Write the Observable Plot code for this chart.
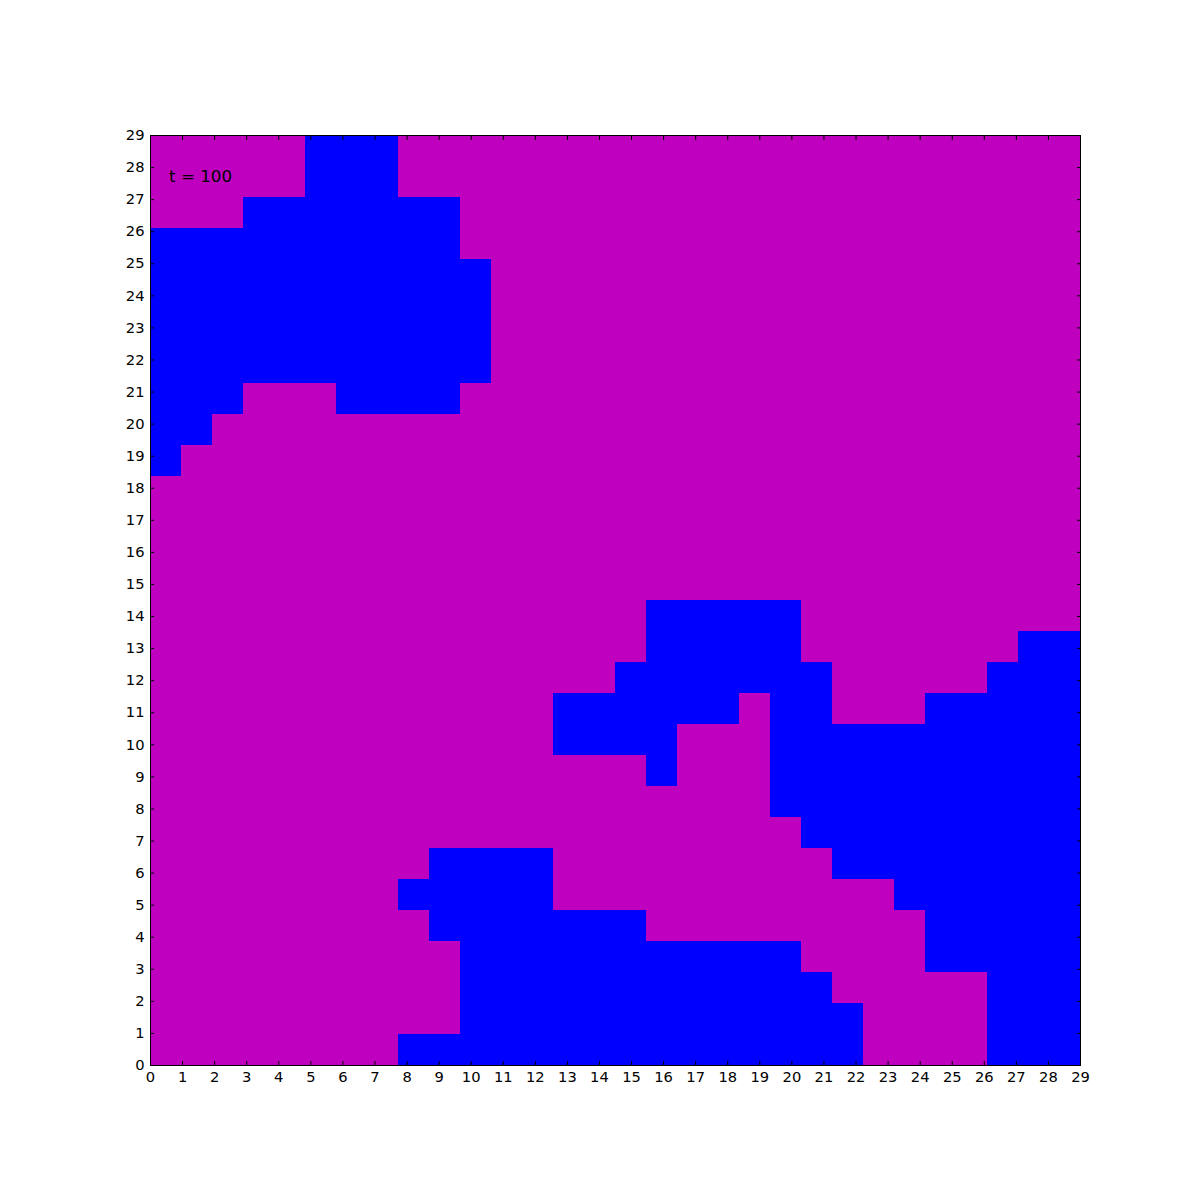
<!DOCTYPE html>
<html>
<head>
<meta charset="utf-8">
<script src="https://cdn.jsdelivr.net/npm/d3@7"></script>
<script src="https://cdn.jsdelivr.net/npm/@observablehq/plot@0.6"></script>
<style>
  body { margin: 0; background: #ffffff; }
  #chart svg { display: block; }
</style>
</head>
<body>
<div id="chart"></div>
<script>
// Grid state, one string per row, listed from the top row (29) down to row 0.
// "1" = blue state, "0" = magenta state; 30 cells per row.
const gridRows = [
  "000001110000000000000000000000",
  "000001110000000000000000000000",
  "000111111100000000000000000000",
  "111111111100000000000000000000",
  "111111111110000000000000000000",
  "111111111110000000000000000000",
  "111111111110000000000000000000",
  "111111111110000000000000000000",
  "111000111100000000000000000000",
  "110000000000000000000000000000",
  "100000000000000000000000000000",
  "000000000000000000000000000000",
  "000000000000000000000000000000",
  "000000000000000000000000000000",
  "000000000000000000000000000000",
  "000000000000000011111000000000",
  "000000000000000011111000000011",
  "000000000000000111111100000111",
  "000000000000011111101100011111",
  "000000000000011110001111111111",
  "000000000000000010001111111111",
  "000000000000000000001111111111",
  "000000000000000000000111111111",
  "000000000111100000000011111111",
  "000000001111100000000000111111",
  "000000000111111100000000011111",
  "000000000011111111111000011111",
  "000000000011111111111100000111",
  "000000000011111111111110000111",
  "000000001111111111111110000111"
];
const states = ["0", "1"];
const stateColors = ["#bf00bf", "#0000ff"];
const xTicks = d3.range(0, 30);
const yTicks = d3.range(0, 30);
const axisMax = 29;
const nCells = 30;
const annotation = ["t = 100"];

const cells = [];
gridRows.forEach((row, t) => {
  const r = nCells - 1 - t;
  [...row].forEach((v, c) => cells.push({c, r, v}));
});
const cw = axisMax / nCells;

const chart = Plot.plot({
  width: 1200,
  height: 1200,
  marginLeft: 150,
  marginRight: 120,
  marginTop: 135,
  marginBottom: 135,
  x: {domain: [0, axisMax], axis: null},
  y: {domain: [0, axisMax], axis: null},
  color: {type: "ordinal", domain: states, range: stateColors},
  style: {fontFamily: "'DejaVu Sans', sans-serif", fontSize: "14.7px", background: "#ffffff", color: "#000000"},
  marks: [
    Plot.rect(cells, {
      x1: d => d.c * cw, x2: d => (d.c + 1) * cw,
      y1: d => d.r * cw, y2: d => (d.r + 1) * cw,
      fill: "v", shapeRendering: "crispEdges"
    }),
    Plot.frame({stroke: "#000000", strokeWidth: 1}),
    Plot.axisX(xTicks, {anchor: "bottom", tickSize: 0, tickPadding: 6, label: null, fontSize: 14.7, tickFormat: d => String(d)}),
    Plot.axisX(xTicks, {anchor: "bottom", tickSize: 4, dy: -4, text: null, label: null, stroke: "#000000"}),
    Plot.axisX(xTicks, {anchor: "top", tickSize: 4, dy: 4, text: null, label: null, stroke: "#000000"}),
    Plot.axisY(yTicks, {anchor: "left", tickSize: 0, tickPadding: 6, label: null, fontSize: 14.7, tickFormat: d => String(d)}),
    Plot.axisY(yTicks, {anchor: "left", tickSize: 4, dx: 4, text: null, label: null, stroke: "#000000"}),
    Plot.axisY(yTicks, {anchor: "right", tickSize: 4, dx: -4, text: null, label: null, stroke: "#000000"}),
    Plot.text(annotation, {
      x: () => 0.02 * axisMax, y: () => 0.95 * axisMax, text: d => d,
      textAnchor: "start", lineAnchor: "bottom", fontSize: 16.7, fill: "#000000"
    })
  ]
});
document.getElementById("chart").appendChild(chart);
</script>
</body>
</html>
